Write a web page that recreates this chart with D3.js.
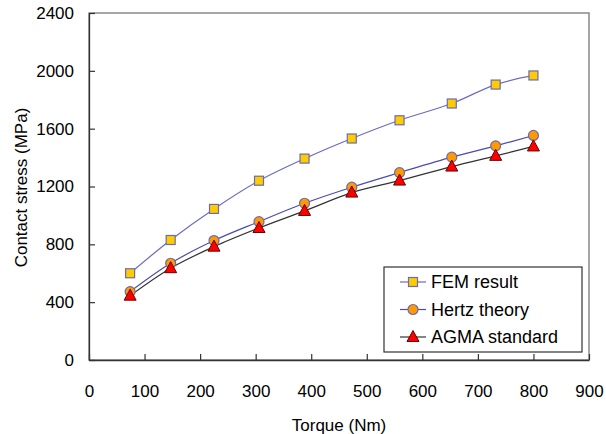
<!DOCTYPE html>
<html>
<head>
<meta charset="utf-8">
<script src="https://cdn.jsdelivr.net/npm/d3@7"></script>
<style>
  body { margin: 0; background: #fff; }
  text { font-family: "Liberation Sans", Arial, sans-serif; fill: #000; }
</style>
</head>
<body>
<div id="chart"></div>
<script>
const width = 606;
const height = 434;
const margin = { top: 13, right: 17, bottom: 74, left: 89 };

// torque values (Nm)
const torque = [74, 147, 225, 306, 388, 473, 559, 653, 732, 800];
const femResult = [600, 830, 1045, 1240, 1393, 1532, 1658, 1774, 1905, 1968];
const hertzTheory = [473, 669, 826, 957, 1084, 1195, 1296, 1403, 1481, 1553];
const agmaStandard = [445, 635, 784, 913, 1031, 1158, 1241, 1338, 1412, 1477];

const xTicks = [0, 100, 200, 300, 400, 500, 600, 700, 800, 900];
const yTicks = [0, 400, 800, 1200, 1600, 2000, 2400];

const series = [
  { name: "FEM result", values: femResult, line: "#6b6bc4", fill: "#ffcc00", stroke: "#6b6bb0", shape: "square" },
  { name: "Hertz theory", values: hertzTheory, line: "#4b4bb0", fill: "#ff9900", stroke: "#6b6bb0", shape: "circle" },
  { name: "AGMA standard", values: agmaStandard, line: "#333333", fill: "#ff0000", stroke: "#660000", shape: "triangle" },
];

const usable = {
  left: margin.left,
  right: width - margin.right,
  top: margin.top,
  bottom: height - margin.bottom,
};

const svg = d3.select("#chart")
  .append("svg")
  .attr("width", width)
  .attr("height", height);

const xScale = d3.scaleLinear().domain([0, 900]).range([usable.left, usable.right]);
const yScale = d3.scaleLinear().domain([0, 2400]).range([usable.bottom, usable.top]);

// plot area frame
svg.append("rect")
  .attr("x", usable.left)
  .attr("y", usable.top)
  .attr("width", usable.right - usable.left)
  .attr("height", usable.bottom - usable.top)
  .attr("fill", "none")
  .attr("stroke", "#777")
  .attr("stroke-width", 1.3);

// axes (ticks pointing inside)
const xAxis = svg.append("g")
  .attr("transform", `translate(0,${usable.bottom})`)
  .call(d3.axisBottom(xScale).tickValues(xTicks).tickFormat(d3.format("d"))
    .tickSizeInner(-6).tickSizeOuter(0).tickPadding(25));

const yAxis = svg.append("g")
  .attr("transform", `translate(${usable.left},0)`)
  .call(d3.axisLeft(yScale).tickValues(yTicks).tickFormat(d3.format("d"))
    .tickSizeInner(-6).tickSizeOuter(0).tickPadding(15));

[xAxis, yAxis].forEach(ax => {
  ax.select(".domain").attr("stroke", "#333").attr("stroke-width", 1.3);
  ax.selectAll(".tick line").attr("stroke", "#333").attr("stroke-width", 1.2);
  ax.selectAll(".tick text")
    .style("font-family", '"Liberation Sans", Arial, sans-serif')
    .style("font-size", "17px")
    .attr("fill", "#000");
});

// axis titles
svg.append("text")
  .attr("x", (usable.left + usable.right) / 2)
  .attr("y", 431)
  .attr("text-anchor", "middle")
  .style("font-size", "17px")
  .text("Torque (Nm)");

svg.append("text")
  .attr("transform", `translate(27,${(usable.top + usable.bottom) / 2 + 1}) rotate(-90)`)
  .attr("text-anchor", "middle")
  .style("font-size", "17px")
  .text("Contact stress (MPa)");

function drawMarker(g, shape, fill, stroke) {
  if (shape === "square") {
    g.append("rect").attr("x", -4.5).attr("y", -4.5).attr("width", 9).attr("height", 9)
      .attr("fill", fill).attr("stroke", stroke).attr("stroke-width", 1.2);
  } else if (shape === "circle") {
    g.append("circle").attr("r", 5)
      .attr("fill", fill).attr("stroke", stroke).attr("stroke-width", 1.2);
  } else {
    g.append("path").attr("d", "M0,-6.5L6,4.5L-6,4.5Z")
      .attr("fill", fill).attr("stroke", stroke).attr("stroke-width", 1);
  }
}

const line = d3.line()
  .x((d, i) => xScale(torque[i]))
  .y(d => yScale(d))
  .curve(d3.curveCatmullRom.alpha(0.5));

series.forEach(s => {
  svg.append("path")
    .datum(s.values)
    .attr("d", line)
    .attr("fill", "none")
    .attr("stroke", s.line)
    .attr("stroke-width", 1.2);
});

series.forEach(s => {
  s.values.forEach((v, i) => {
    const g = svg.append("g").attr("transform", `translate(${xScale(torque[i])},${yScale(v)})`);
    drawMarker(g, s.shape, s.fill, s.stroke);
  });
});

// legend
const legend = svg.append("g").attr("transform", "translate(384,267)");
legend.append("rect")
  .attr("width", 198)
  .attr("height", 85)
  .attr("fill", "#fff")
  .attr("stroke", "#333")
  .attr("stroke-width", 1.2);

series.forEach((s, i) => {
  const y = 15 + i * 27.5;
  legend.append("line")
    .attr("x1", 16).attr("x2", 42).attr("y1", y).attr("y2", y)
    .attr("stroke", s.line).attr("stroke-width", 1.2);
  const g = legend.append("g").attr("transform", `translate(29,${y})`);
  drawMarker(g, s.shape, s.fill, s.stroke);
  legend.append("text")
    .attr("x", 47)
    .attr("y", y + 6)
    .style("font-size", "18px")
    .text(s.name);
});
</script>
</body>
</html>
